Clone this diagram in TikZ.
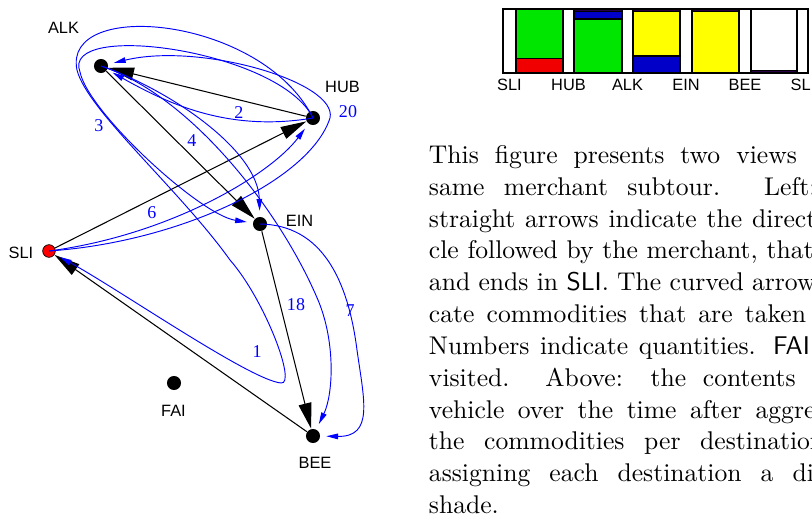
\documentclass[tikz,border=0pt]{standalone}
\usepackage{fontspec}
\newfontfamily\labelfont{Liberation Sans}
\newfontfamily\qtyfont{Liberation Serif}
\usetikzlibrary{arrows.meta}
\definecolor{flowblue}{RGB}{0,0,255}
\definecolor{loadgreen}{RGB}{0,230,0}
\definecolor{loadred}{RGB}{240,0,0}
\definecolor{loadblue}{RGB}{0,0,200}
\definecolor{loadyellow}{RGB}{255,255,0}
\definecolor{loaddark}{RGB}{40,0,70}
\tikzset{
  city/.style={circle, fill=black, inner sep=0pt, minimum size=6pt},
  depot/.style={circle, draw=black, fill=red, line width=0.3pt, inner sep=0pt, minimum size=5.4pt},
  tour/.style={line width=0.45pt, -{Triangle[length=11pt,width=5.5pt]}},
  flow/.style={flowblue, line width=0.4pt, shorten >=2.5pt, -{Triangle[length=5pt,width=2.4pt]}},
  lbl/.style={font=\labelfont\fontsize{7}{8}\selectfont, inner sep=0pt},
  qty/.style={flowblue, font=\qtyfont\fontsize{7.7}{9}\selectfont, inner sep=0pt},
  load/.style={draw=black, line width=0.6pt},
}

\begin{document}
\begin{tikzpicture}[x=0.4274pt, y=-0.4274pt]
      \useasboundingbox (0,0) rectangle (812,517);
      % the stops of the subtour
      \node[city] (alk) at (101,66) {};
      \node[lbl] (alklbl) at (63.5,27.5) {ALK};
      \node[city] (hub) at (313,118) {};
      \node[lbl] (hublbl) at (342.5,87) {HUB};
      \node[city] (ein) at (260,224) {};
      \node[lbl] (einlbl) at (299.5,221) {EIN};
      \node[depot] (sli) at (49,251) {};
      \node[lbl] (slilbl) at (21,252.5) {SLI};
      \node[city] (fai) at (174,383) {};
      \node[lbl] (failbl) at (173.5,410.5) {FAI};
      \node[city] (bee) at (313,436) {};
      \node[lbl] (beelbl) at (315,463) {BEE};
      % directed cycle
      \draw[tour] (sli) -- (hub);
      \draw[tour] (hub) -- (alk);
      \draw[tour] (alk) -- (ein);
      \draw[tour] (ein) -- (bee);
      \draw[tour] (bee) -- (sli);
      % commodities
      \draw[flow] (sli.center) .. controls (170,235) and (270,175) .. (hub);
      \node[qty] (q6) at (152,213) {6};
      \draw[flow] (sli.center) .. controls (180,242) and (310,180) .. (330,118) .. controls (338,82) and (200,42) .. (alk);
      \node[qty] (q20) at (348,112) {20};
      \draw[flow] (hub.center) .. controls (230,132) and (170,105) .. (alk);
      \node[qty] (q2) at (239,113) {2};
      \draw[flow] (hub.center) .. controls (280,50) and (60,20) .. (80,72) .. controls (88,112) and (200,215) .. (ein);
      \node[qty] (q3) at (99,126) {3};
      \draw[flow] (hub.center) .. controls (262,16) and (62,-2) .. (77,70) .. controls (87,110) and (180,190) .. (230,260)
        .. controls (265,300) and (297,385) .. (281,383) .. controls (250,380) and (120,290) .. (sli);
      \node[qty] (q1) at (257,352) {1};
      \draw[flow] (alk.center) .. controls (170,90) and (258,150) .. (ein);
      \node[qty] (q4) at (192,141) {4};
      \draw[flow] (alk.center) .. controls (190,95) and (280,210) .. (318,300) .. controls (336,343) and (333,395) .. (bee);
      \node[qty] (q18) at (296,305) {18};
      \draw[flow] (ein.center) .. controls (322,225) and (348,280) .. (357,350) .. controls (364,400) and (374,437) .. (bee);
      \node[qty] (q7) at (350,311) {7};
      % contents of the vehicle
      \draw[load] (503,9) rectangle (808,73);
      \filldraw[load, fill=loadgreen] (516,9) rectangle (563,58.4);
      \filldraw[load, fill=loadred] (516,58.4) rectangle (563,73);
      \filldraw[load, fill=loaddark] (574,9) rectangle (622,11.5);
      \filldraw[load, fill=loadblue] (574,11.5) rectangle (622,19);
      \filldraw[load, fill=loadgreen] (574,19) rectangle (622,73);
      \filldraw[load, fill=loaddark] (633,9) rectangle (680,11.5);
      \filldraw[load, fill=loadyellow] (633,11.5) rectangle (680,55.8);
      \filldraw[load, fill=loadblue] (633,55.8) rectangle (680,73);
      \filldraw[load, fill=loaddark] (692,9) rectangle (739,11.5);
      \filldraw[load, fill=loadyellow] (692,11.5) rectangle (739,73);
      \filldraw[load, fill=white] (751,9) rectangle (797,70.5);
      \filldraw[load, fill=loaddark] (751,70.5) rectangle (797,73);
      \foreach \x/\t [count=\i] in {509.5/SLI, 568.5/HUB, 627.5/ALK, 686/EIN, 745/BEE, 803/SLI}
        \node[lbl, anchor=base] (axis\i) at (\x,90.5) {\t};
      % caption, cut at the right edge
      \begin{scope}
        \clip (0,0) rectangle (812,517);
        \node[anchor=base west, inner sep=0pt, text width=195pt, align=justify,
          font=\fontsize{10.95}{13.6}\selectfont] (caption) at (428.5,163.5)
          {This figure presents two views of the\linebreak
           same merchant subtour. Left: the\linebreak
           straight arrows indicate the directed cy-\linebreak
           cle followed by the merchant, that starts\linebreak
           and ends in \textsf{SLI}. The curved arrows indi-\linebreak
           cate commodities that are taken along.\linebreak
           Numbers indicate quantities. \textsf{FAI} is not\linebreak
           visited. Above: the contents of the\linebreak
           vehicle over the time after aggregating\linebreak
           the commodities per destination and\linebreak
           assigning each destination a different\linebreak
           shade.};
      \end{scope}
    \end{tikzpicture}
\end{document}
